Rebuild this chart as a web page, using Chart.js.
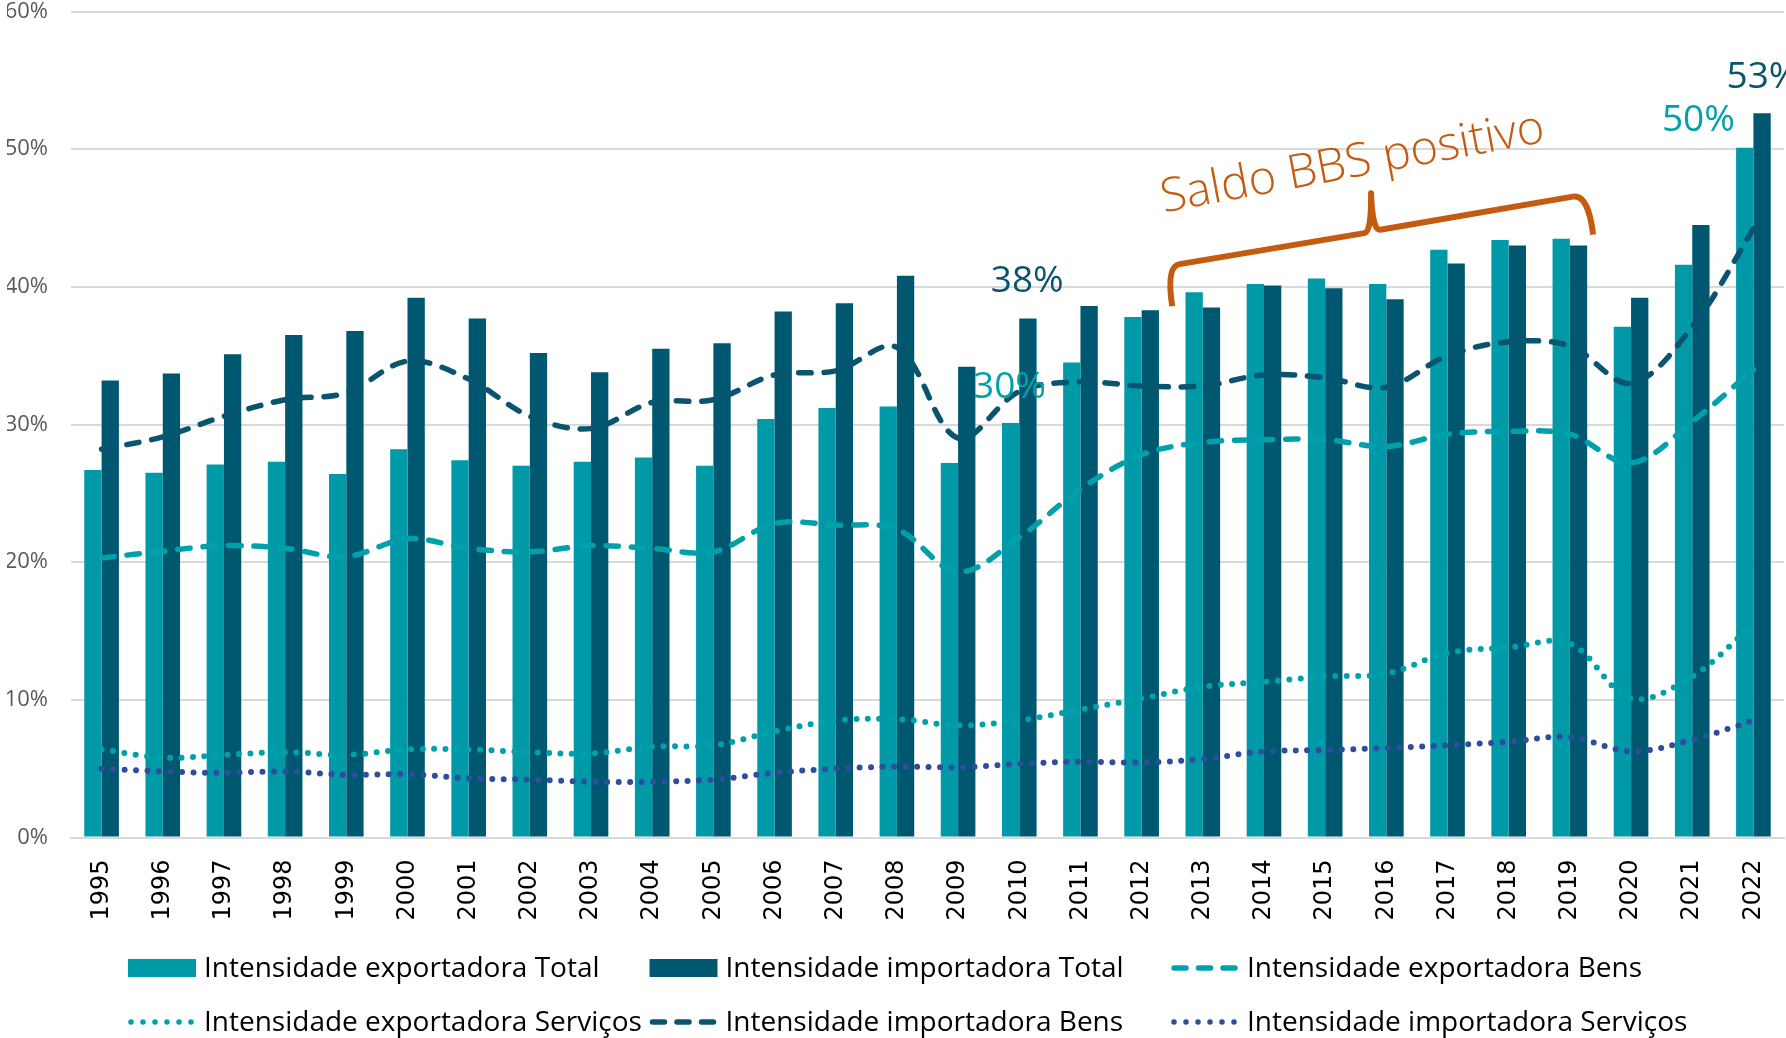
<!DOCTYPE html>
<html>
<head>
<meta charset="utf-8">
<title>Intensidade exportadora e importadora</title>
<script src="https://cdn.jsdelivr.net/npm/chart.js@4.4.0/dist/chart.umd.min.js"></script>
<style>
  html, body { margin: 0; padding: 0; background: #fff; }
  canvas { display: block; }
</style>
</head>
<body>
<canvas id="chart" width="1786" height="1038"></canvas>
<script>
// Data (percent).
const years = [
  "1995", "1996", "1997", "1998", "1999", "2000", "2001", "2002", "2003", "2004",
  "2005", "2006", "2007", "2008", "2009", "2010", "2011", "2012", "2013", "2014",
  "2015", "2016", "2017", "2018", "2019", "2020", "2021", "2022"
];
const expTotal = [
  26.7, 26.5, 27.1, 27.3, 26.4, 28.2, 27.4, 27.0, 27.3, 27.6,
  27.0, 30.4, 31.2, 31.3, 27.2, 30.1, 34.5, 37.8, 39.6, 40.2,
  40.6, 40.2, 42.7, 43.4, 43.5, 37.1, 41.6, 50.1
];
const impTotal = [
  33.2, 33.7, 35.1, 36.5, 36.8, 39.2, 37.7, 35.2, 33.8, 35.5,
  35.9, 38.2, 38.8, 40.8, 34.2, 37.7, 38.6, 38.3, 38.5, 40.1,
  39.9, 39.1, 41.7, 43.0, 43.0, 39.2, 44.5, 52.6
];
const expBens = [
  20.3, 20.8, 21.2, 21.0, 20.4, 21.7, 21.0, 20.75, 21.2, 21.0,
  20.75, 22.8, 22.7, 22.4, 19.3, 21.8, 25.3, 27.8, 28.7, 28.9,
  28.9, 28.4, 29.3, 29.5, 29.3, 27.2, 30.2, 34.0
];
const impBens = [
  28.2, 29.1, 30.6, 31.8, 32.3, 34.6, 33.3, 30.6, 29.7, 31.6,
  31.8, 33.6, 33.9, 35.6, 29.0, 32.4, 33.1, 32.8, 32.8, 33.6,
  33.4, 32.7, 35.0, 36.0, 35.7, 33.0, 37.1, 44.2
];
const expServ = [
  6.4, 5.8, 6.0, 6.2, 6.0, 6.4, 6.4, 6.2, 6.1, 6.6,
  6.7, 7.7, 8.5, 8.6, 8.15, 8.5, 9.3, 10.1, 10.95, 11.3,
  11.7, 11.9, 13.4, 13.8, 14.1, 10.1, 11.7, 15.5
];
const impServ = [
  5.0, 4.8, 4.7, 4.8, 4.55, 4.6, 4.3, 4.2, 4.05, 4.05,
  4.2, 4.7, 5.0, 5.15, 5.1, 5.35, 5.5, 5.45, 5.7, 6.25,
  6.35, 6.5, 6.7, 6.95, 7.3, 6.25, 7.1, 8.5
];
const yTicks = [0, 10, 20, 30, 40, 50, 60];

const TEAL = "#0099a8";
const DARK = "#005770";
const TEAL_LINE = "#00a1ab";
const DARK_LINE = "#0a5470";
const NAVY = "#2f4d9c";
const ORANGE = "#c55a11";
const GRID = "#d9d9d9";

const DASH = [12.5, 13];
const DOT = [0, 11.5];

function lineSet(label, data, color, dash, kind) {
  return {
    type: "line",
    label,
    data,
    borderColor: color,
    backgroundColor: color,
    borderWidth: kind === "dot" ? 6 : 5.5,
    borderDash: dash,
    borderCapStyle: "round",
    pointRadius: 0,
    tension: 0.35,
    fill: false,
    order: 0,
    legendKind: kind,
  };
}

// dataset order = legend order (3 per row)
const datasets = [
  { type: "bar", label: "Intensidade exportadora Total", data: expTotal,
    backgroundColor: TEAL, order: 1, legendKind: "box" },
  { type: "bar", label: "Intensidade importadora Total", data: impTotal,
    backgroundColor: DARK, order: 1, legendKind: "box" },
  lineSet("Intensidade exportadora Bens", expBens, TEAL_LINE, DASH, "dash"),
  lineSet("Intensidade exportadora Serviços", expServ, TEAL_LINE, DOT, "dot"),
  lineSet("Intensidade importadora Bens", impBens, DARK_LINE, DASH, "dash"),
  lineSet("Intensidade importadora Serviços", impServ, NAVY, DOT, "dot"),
];

// Callouts: category index (fractional) and value for placement.
const last = years.length - 1;
const i2010 = years.indexOf("2010");
const callouts = [
  { text: Math.round(impTotal[i2010]) + "%", x: i2010 + 0.13, y: 40.4, color: DARK_LINE, align: "center" },
  { text: Math.round(expTotal[i2010]) + "%", x: i2010 - 0.16, y: 32.7, color: TEAL_LINE, align: "center" },
  { text: Math.round(expTotal[last]) + "%", x: last - 0.9, y: 52.1, color: TEAL_LINE, align: "center" },
  { text: Math.round(impTotal[last]) + "%", x: last - 0.44, y: 55.2, color: DARK_LINE, align: "left" },
];

const annotationPlugin = {
  id: "annotations",
  afterDatasetsDraw(chart) {
    const { ctx, scales: { x, y } } = chart;
    const px = (i) => x.getPixelForValue(i);
    const py = (v) => y.getPixelForValue(v);

    ctx.save();
    ctx.font = '37px "Open Sans"';
    ctx.textBaseline = "middle";
    callouts.forEach((c) => {
      ctx.fillStyle = c.color;
      ctx.textAlign = c.align;
      ctx.fillText(c.text, px(c.x), py(c.y));
    });

    // "Saldo BBS positivo" brace over 2013-2019
    ctx.strokeStyle = ORANGE;
    ctx.lineWidth = 6;
    ctx.lineJoin = "round";
    ctx.lineCap = "butt";
    ctx.beginPath();
    ctx.moveTo(px(17.50), py(38.6));
    ctx.quadraticCurveTo(px(17.40), py(41.5), px(17.62), py(41.65));
    ctx.lineTo(px(20.64), py(43.9));
    ctx.quadraticCurveTo(px(20.76), py(44.0), px(20.75), py(46.8));
    ctx.quadraticCurveTo(px(20.77), py(44.1), px(20.90), py(44.15));
    ctx.lineTo(px(24.05), py(46.55));
    ctx.quadraticCurveTo(px(24.30), py(46.75), px(24.38), py(43.8));
    ctx.stroke();

    ctx.translate(px(17.36), py(45.4));
    ctx.rotate(-10.5 * Math.PI / 180);
    ctx.fillStyle = ORANGE;
    ctx.font = '300 47px "Open Sans"';
    ctx.textAlign = "left";
    ctx.textBaseline = "alphabetic";
    ctx.fillText("Saldo BBS positivo", 0, 0);
    ctx.restore();
  },
};

const legendPlugin = {
  id: "gridLegend",
  afterDraw(chart) {
    const { ctx } = chart;
    const colX = [128, 649.5, 1171];
    const rowY = [968, 1022];
    ctx.save();
    ctx.font = '28px "Open Sans"';
    ctx.textBaseline = "middle";
    ctx.textAlign = "left";
    chart.data.datasets.forEach((ds, i) => {
      const x0 = colX[i % 3];
      const yc = rowY[Math.floor(i / 3)];
      const color = ds.borderColor || ds.backgroundColor;
      if (ds.legendKind === "box") {
        ctx.fillStyle = ds.backgroundColor;
        ctx.fillRect(x0, yc - 9, 68, 18);
      } else {
        ctx.strokeStyle = color;
        ctx.lineWidth = 5.5;
        ctx.lineCap = "round";
        ctx.setLineDash(ds.legendKind === "dash" ? [12, 12.5] : [0, 12]);
        ctx.beginPath();
        ctx.moveTo(x0 + 3, yc);
        ctx.lineTo(x0 + 66, yc);
        ctx.stroke();
        ctx.setLineDash([]);
      }
      ctx.fillStyle = "#000";
      ctx.fillText(ds.label, x0 + 76, yc + 1);
    });
    ctx.restore();
  },
};

Chart.defaults.font.family = '"Open Sans", sans-serif';

new Chart(document.getElementById("chart").getContext("2d"), {
  type: "bar",
  data: { labels: years, datasets },
  options: {
    responsive: false,
    animation: false,
    layout: { padding: { left: 7, right: 2, top: 11.5, bottom: 100.5 } },
    datasets: {
      bar: { barPercentage: 1, categoryPercentage: 0.566, borderWidth: 0 },
    },
    scales: {
      x: {
        grid: { display: false, drawTicks: false },
        border: { display: true, color: GRID, width: 2 },
        ticks: {
          autoSkip: false,
          minRotation: 90,
          maxRotation: 90,
          padding: 22,
          color: "#000",
          font: { family: '"DejaVu Sans"', size: 24 },
        },
        afterFit(scale) {
          scale.height = 100;
          scale.paddingLeft = 0;
          scale.paddingRight = 0;
        },
      },
      y: {
        min: yTicks[0],
        max: yTicks[yTicks.length - 1],
        afterBuildTicks(scale) { scale.ticks = yTicks.map((v) => ({ value: v })); },
        grid: { color: GRID, lineWidth: 2, drawTicks: false },
        border: { display: false },
        ticks: {
          padding: 23,
          color: "#595959",
          font: { size: 22 },
          callback: (v) => v + "%",
        },
        afterFit(scale) {
          scale.width = 64;
          scale.paddingTop = 0;
          scale.paddingBottom = 0;
        },
      },
    },
    plugins: {
      legend: { display: false },
      tooltip: { enabled: false },
    },
  },
  plugins: [annotationPlugin, legendPlugin],
});
</script>
</body>
</html>
